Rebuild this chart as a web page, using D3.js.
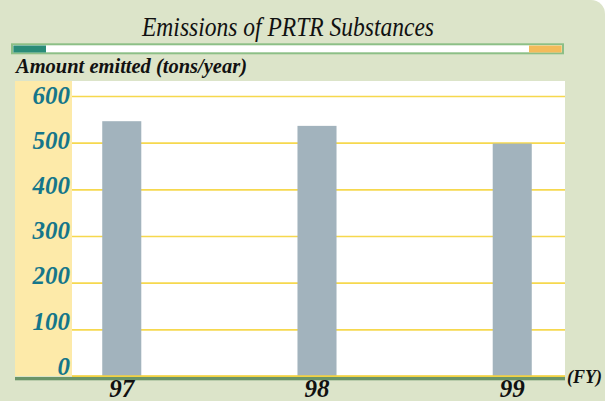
<!DOCTYPE html>
<html>
<head>
<meta charset="utf-8">
<script src="https://cdn.jsdelivr.net/npm/d3@7"></script>
<style>
body{margin:0;background:#fff;}
svg{display:block;}
text{font-family:"Liberation Serif","Times New Roman","DejaVu Serif",serif;}
</style>
</head>
<body>
<div id="chart"></div>
<script>
// data
let years = ["97", "98", "99"];
let emissions = [546, 536, 498];
let yTicks = [0, 100, 200, 300, 400, 500, 600];

let width = 605, height = 401;
let svg = d3.select("#chart").append("svg").attr("width", width).attr("height", height);

// background panel, rounded top-right corner
let r = 14;
svg.append("path")
  .attr("d", "M0,0 H" + (width - r) + " A" + r + "," + r + " 0 0 1 " + width + "," + r + " V" + height + " H0 Z")
  .attr("fill", "#dce4c9");

// title
svg.append("text").text("Emissions of PRTR Substances")
  .attr("x", 142).attr("y", 36)
  .attr("textLength", 292).attr("lengthAdjust", "spacingAndGlyphs")
  .style("font-style", "italic")
  .style("font-size", "27px").style("fill", "#111");

// header strip
svg.append("rect").attr("x", 12).attr("y", 44.3).attr("width", 551).attr("height", 9)
  .style("fill", "#fff").style("stroke", "#8cbf86").style("stroke-width", 2);
svg.append("rect").attr("x", 13.3).attr("y", 45.5).attr("width", 32.7).attr("height", 7)
  .style("fill", "#2a8c78");
svg.append("rect").attr("x", 529).attr("y", 45.5).attr("width", 32.7).attr("height", 7)
  .style("fill", "#f3bb5a");

svg.append("text").text("Amount emitted (tons/year)")
  .attr("x", 16).attr("y", 72.7)
  .attr("textLength", 231).attr("lengthAdjust", "spacingAndGlyphs")
  .style("font-style", "italic").style("font-weight", "bold")
  .style("font-size", "20px").style("fill", "#111");

// plot area
let plotL = 72, plotR = 565, plotT = 81, plotB = 376;
svg.append("rect").attr("x", 15).attr("y", plotT).attr("width", plotL - 15).attr("height", plotB - plotT)
  .style("fill", "#fdeaa9");
svg.append("rect").attr("x", plotL).attr("y", plotT).attr("width", plotR - plotL).attr("height", plotB - plotT)
  .style("fill", "#fff");

let scaleY = d3.scaleLinear().domain([0, 600]).range([376, 96]);
// tick labels in the picture sit a little above their lines near the bottom
let labelY = d3.scaleLinear().domain([0, 600]).range([366, 95]);
let scaleX = d3.scaleBand().domain(years).range([71, 563]).paddingInner(0.8).paddingOuter(0.16);

// grid lines
let grid = svg.append("g").attr("id", "grid")
  .attr("transform", "translate(" + plotL + ",0)")
  .call(d3.axisLeft(scaleY).tickValues(yTicks).tickSize(-(plotR - plotL)).tickFormat(""));
grid.select(".domain").remove();
grid.selectAll(".tick line").style("stroke", "#f6d84e").style("stroke-width", 1.6);

// bars
svg.selectAll("rect.bar").data(emissions).enter().append("rect")
  .attr("class", "bar")
  .attr("x", (d, i) => scaleX(years[i]))
  .attr("y", d => scaleY(d))
  .attr("width", scaleX.bandwidth())
  .attr("height", d => scaleY(0) - scaleY(d))
  .style("fill", "#a2b3bd");

// zero line + green base
svg.append("line").attr("x1", plotL).attr("x2", plotR).attr("y1", scaleY(0)).attr("y2", scaleY(0))
  .style("stroke", "#f0d040").style("stroke-width", 1.5);
svg.append("rect").attr("x", 15).attr("y", scaleY(0) + 1).attr("width", plotR - 15).attr("height", 3.3)
  .style("fill", "#6a9468");

// y labels
let axisY = svg.append("g").attr("id", "y-axis").attr("transform", "translate(70,0)")
  .call(d3.axisLeft(labelY).tickValues(yTicks).tickSize(0).tickPadding(0).tickFormat(d3.format("d")));
axisY.select(".domain").remove();
axisY.attr("font-family", null);
axisY.selectAll("text")
  .attr("dy", "0.33em")
  .style("font-style", "italic").style("font-weight", "bold")
  .style("font-size", "25px").style("fill", "#15768a");

// x labels
let axisX = svg.append("g").attr("id", "x-axis").attr("transform", "translate(0," + 397 + ")")
  .call(d3.axisBottom(scaleX).tickSize(0).tickPadding(0));
axisX.select(".domain").remove();
axisX.attr("font-family", null);
axisX.selectAll("text")
  .attr("dy", 0)
  .style("font-style", "italic").style("font-weight", "bold")
  .style("font-size", "25px").style("fill", "#111");

svg.append("text").text("(FY)").attr("x", 567).attr("y", 383)
  .style("font-style", "italic").style("font-weight", "bold")
  .style("font-size", "18px").style("fill", "#111");
</script>
</body>
</html>
